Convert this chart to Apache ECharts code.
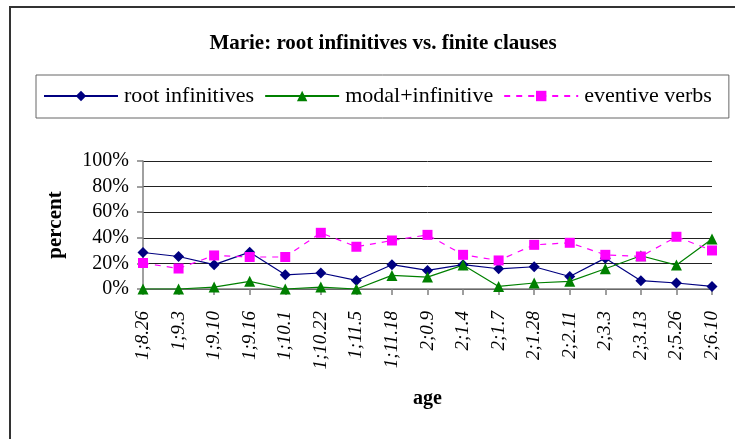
<!DOCTYPE html>
<html>
<head>
<meta charset="utf-8">
<script src="https://cdn.jsdelivr.net/npm/echarts@6/dist/echarts.min.js"></script>
<style>
  html, body { margin: 0; padding: 0; background: #fff; }
  #chart { width: 735px; height: 439px; }
</style>
</head>
<body>
<div id="chart"></div>
<script>
var fontFamily = '"Liberation Serif", "DejaVu Serif", serif'

var ages = ['1;8.26', '1;9.3', '1;9.10', '1;9.16', '1;10.1', '1;10.22', '1;11.5', '1;11.18',
  '2;0.9', '2;1.4', '2;1.7', '2;1.28', '2;2.11', '2;3.3', '2;3.13', '2;5.26', '2;6.10']
var rootInfinitives = [28.5, 25.4, 19, 28.8, 11.1, 12.5, 6.7, 19, 14.5, 19, 15.8, 17.4, 9.8, 24.1, 6.5, 4.7, 2]
var modalInfinitive = [0, 0, 1.5, 6, 0, 1.5, 0, 10.6, 9.3, 18.7, 2, 4.7, 6, 15.8, 26, 18.7, 39]
var eventiveVerbs = [20.3, 16, 26.2, 25, 25, 43.9, 33, 37.9, 42.3, 26.7, 22.3, 34.5, 36.1, 26.7, 25.4, 40.8, 30.1]
var yTicks = [0, 20, 40, 60, 80, 100]

var option = {
  animation: false,
  textStyle: { fontFamily: fontFamily, color: '#000' },
  title: {
    text: 'Marie: root infinitives vs. finite clauses',
    left: 378,
    textAlign: 'center',
    top: 28,
    textStyle: { fontFamily: fontFamily, fontSize: 21, fontWeight: 'bold', color: '#000' }
  },
  graphic: [
    {
      type: 'rect',
      shape: { x: 10, y: 7, width: 800, height: 500 },
      style: { fill: 'none', stroke: '#333', lineWidth: 2 },
      silent: true
    }
  ],
  legend: {
    left: 36,
    top: 75,
    width: 694,
    padding: [10, 17, 11, 7],
    itemGap: 10,
    itemWidth: 74,
    itemHeight: 13,
    borderColor: '#666',
    borderWidth: 1,
    textStyle: { fontFamily: fontFamily, fontSize: 22, lineHeight: 22, color: '#000', padding: [0, 0, 0, 1] },
    data: ['root infinitives', 'modal+infinitive', 'eventive verbs']
  },
  grid: {
    left: 143,
    right: 23,
    top: 161,
    bottom: 150
  },
  xAxis: {
    type: 'category',
    boundaryGap: false,
    data: ages,
    name: 'age',
    nameLocation: 'middle',
    nameGap: 100,
    nameTextStyle: { fontFamily: fontFamily, fontSize: 20, fontWeight: 'bold', color: '#000' },
    axisLine: { lineStyle: { color: '#808080', width: 1.5 } },
    axisTick: { alignWithLabel: true, length: 6, lineStyle: { color: '#808080', width: 1.5 } },
    axisLabel: {
      interval: 0,
      rotate: 90,
      margin: 22,
      padding: [0, 0, 10, 0],
      fontFamily: fontFamily,
      fontStyle: 'italic',
      fontSize: 19,
      color: '#000'
    },
    splitLine: { show: false }
  },
  yAxis: {
    type: 'value',
    min: yTicks[0],
    max: yTicks[yTicks.length - 1],
    interval: 20,
    name: 'percent',
    nameLocation: 'middle',
    nameRotate: 90,
    nameGap: 77,
    nameTextStyle: { fontFamily: fontFamily, fontSize: 21, fontWeight: 'bold', color: '#000' },
    axisLine: { show: true, lineStyle: { color: '#808080', width: 1.5 } },
    axisTick: { show: true, length: 6, lineStyle: { color: '#808080', width: 1.5 } },
    axisLabel: {
      margin: 14,
      formatter: '{value}%',
      fontFamily: fontFamily,
      fontSize: 20,
      color: '#000'
    },
    splitLine: { lineStyle: { color: '#222', width: 1 } }
  },
  series: [
    {
      name: 'root infinitives',
      type: 'line',
      data: rootInfinitives,
      symbol: 'diamond',
      symbolSize: 11,
      itemStyle: { color: '#000080' },
      lineStyle: { color: '#000080', width: 1.2 }
    },
    {
      name: 'modal+infinitive',
      type: 'line',
      data: modalInfinitive,
      symbol: 'triangle',
      symbolSize: 11,
      itemStyle: { color: '#008000' },
      lineStyle: { color: '#008000', width: 1.2 }
    },
    {
      name: 'eventive verbs',
      type: 'line',
      data: eventiveVerbs,
      symbol: 'rect',
      symbolSize: 10,
      itemStyle: { color: '#ff00ff' },
      lineStyle: { color: '#ff00ff', width: 1.2, type: [6, 6] }
    }
  ]
}

var chart = echarts.init(document.getElementById('chart'))
chart.setOption(option)
</script>
</body>
</html>
